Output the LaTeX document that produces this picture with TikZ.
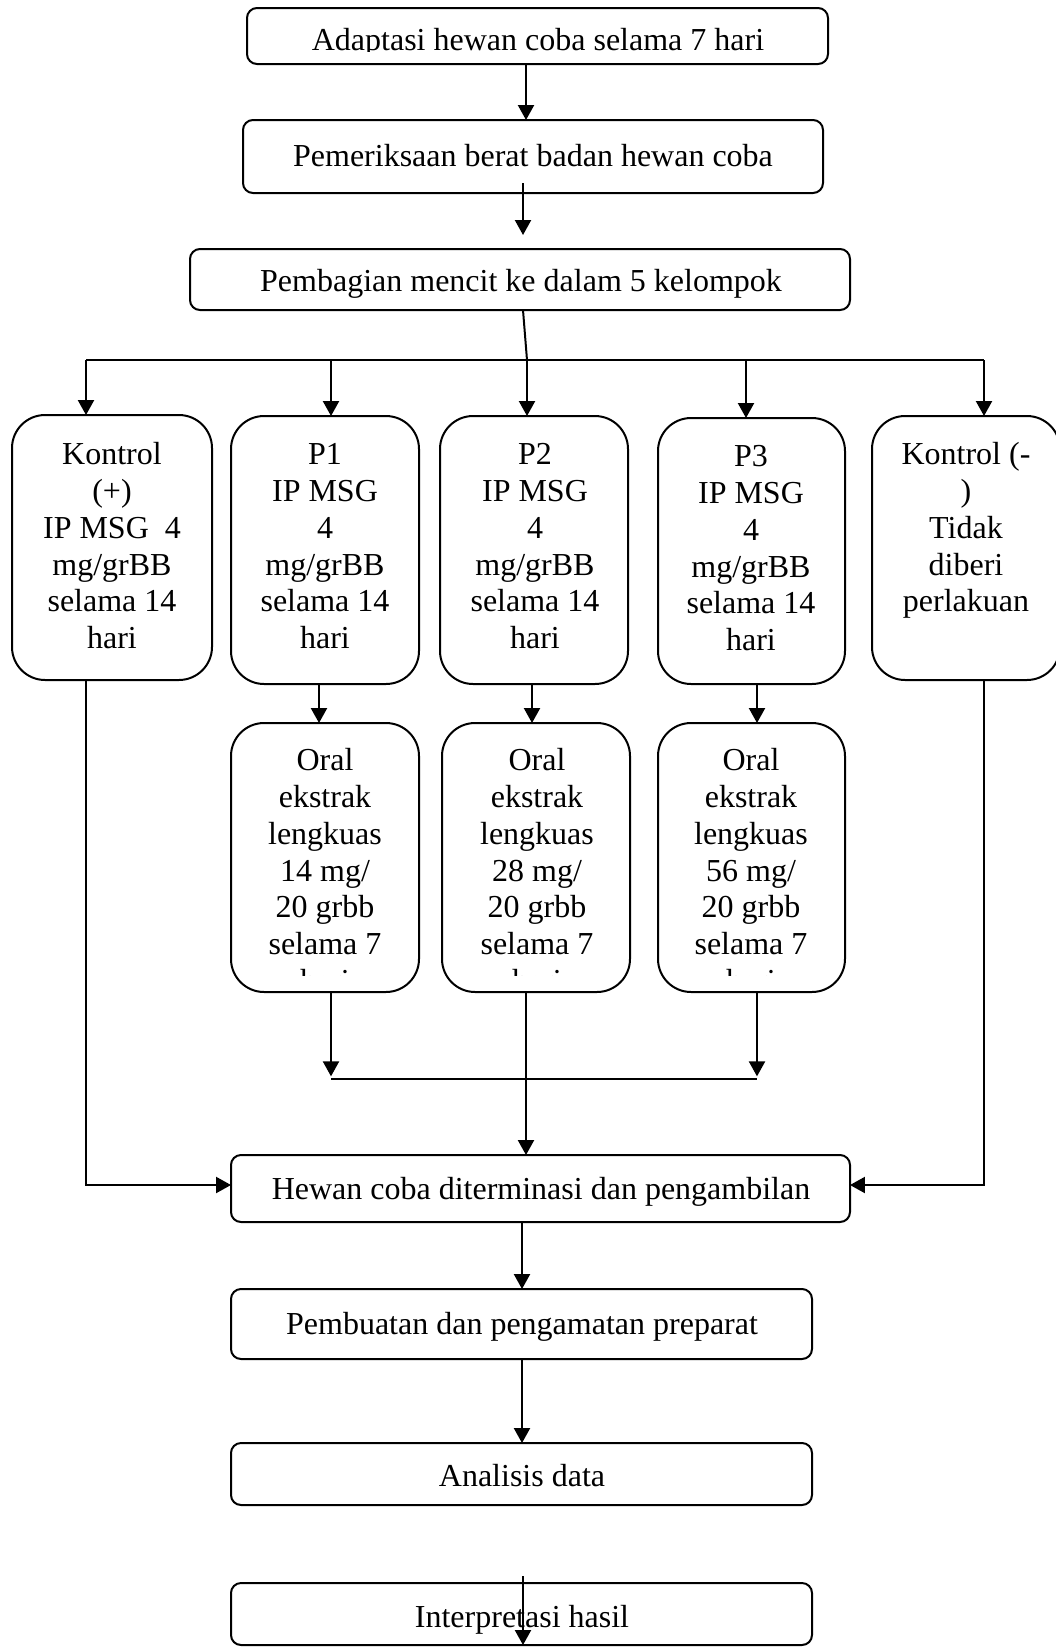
\documentclass[tikz,border=0pt]{standalone}
\usepackage{fontspec}
\setmainfont{Liberation Serif}
\usetikzlibrary{arrows.meta}
\newcommand\mybox[6]{\node[#1, minimum width={(#5-#3)*0.375pt}, minimum height={(#6-#4)*0.375pt}] (#2) at ({(#3+#5)/2},{(#4+#6)/2}) {};}
\begin{document}
\begin{tikzpicture}[x=0.375pt,y=-0.375pt,
  line width=0.75pt,
  box/.style={draw, line width=0.75pt, inner sep=0pt, outer sep=0pt},
  wide/.style={box, rounded corners=3.75pt},
  tall/.style={box, rounded corners=12.4pt},
  txt/.style={inner sep=0pt, outer sep=0pt, font=\fontsize{12}{13.8}\selectfont, align=center},
  arr/.style={-{Triangle[width=6pt,length=5.6pt]}}]
\useasboundingbox (0,0) rectangle (1056,1647);

% boxes
\mybox{wide}{b1}{247}{8}{828}{64}
\mybox{wide}{b2}{243}{120}{823}{193}
\mybox{wide}{b3}{190}{249}{850}{310}
\mybox{tall}{kp}{12}{415}{212}{680}
\mybox{tall}{p1}{231}{416}{419}{684}
\mybox{tall}{p2}{440}{416}{628}{684}
\mybox{tall}{p3}{658}{418}{845}{684}
\mybox{tall}{km}{872}{416}{1060}{680}
\mybox{tall}{o1}{231}{723}{419}{992}
\mybox{tall}{o2}{442}{723}{630}{992}
\mybox{tall}{o3}{658}{723}{845}{992}
\mybox{wide}{hw}{231}{1155}{850}{1222}
\mybox{wide}{pb}{231}{1289}{812}{1359}
\mybox{wide}{an}{231}{1443}{812}{1505}
\mybox{wide}{ih}{231}{1583}{812}{1645}

% texts
\begin{scope}
\clip (247,8) rectangle (828,51);
\node[txt, anchor=base] (t1) at (538,50) {Adaptasi hewan coba selama 7 hari};
\end{scope}
\node[txt, anchor=base] (t2) at (533,166) {Pemeriksaan berat badan hewan coba};
\node[txt, anchor=base] (t3) at (521,291) {Pembagian mencit ke dalam 5 kelompok};
\node[txt, anchor=north] (tkp) at (112,439) {\strut Kontrol\\(+)\\IP MSG\ \ 4\\mg/grBB\\selama 14\\hari};
\node[txt, anchor=north] (tp1) at (325,439) {\strut P1\\IP MSG\\4\\mg/grBB\\selama 14\\hari};
\node[txt, anchor=north] (tp2) at (535,439) {\strut P2\\IP MSG\\4\\mg/grBB\\selama 14\\hari};
\node[txt, anchor=north] (tp3) at (751,441) {\strut P3\\IP MSG\\4\\mg/grBB\\selama 14\\hari};
\node[txt, anchor=north] (tkm) at (966,439) {\strut Kontrol (-\\)\\Tidak\\diberi\\perlakuan};
\begin{scope}
\clip (200,723) rectangle (860,975);
\node[txt, anchor=north] (to1) at (325,745) {\strut Oral\\ekstrak\\lengkuas\\14 mg/\\20 grbb\\selama 7\\hari};
\node[txt, anchor=north] (to2) at (537,745) {\strut Oral\\ekstrak\\lengkuas\\28 mg/\\20 grbb\\selama 7\\hari};
\node[txt, anchor=north] (to3) at (751,745) {\strut Oral\\ekstrak\\lengkuas\\56 mg/\\20 grbb\\selama 7\\hari};
\end{scope}
\node[txt, anchor=base] (thw) at (541,1199) {Hewan coba diterminasi dan pengambilan};
\node[txt, anchor=base] (tpb) at (522,1334) {Pembuatan dan pengamatan preparat};
\node[txt, anchor=base] (tan) at (522,1486) {Analisis data};
\node[txt, anchor=base] (tih) at (522,1627) {Interpretasi hasil};

% connectors
\coordinate (a2s) at (523,183);
\coordinate (a2e) at (523,235);
\coordinate (split) at (527,360);
\coordinate (sl) at (86,360);
\coordinate (sr) at (984,360);
\coordinate (jl) at (331,1079);
\coordinate (jr) at (757,1079);
\coordinate (ls) at (523,1576);

\draw[arr] (526,0 |- b1.south) -- (526,0 |- b2.north);
\draw[arr] (a2s) -- (a2e);
\draw (523,0 |- b3.south) -- (split);
\draw (sl) -- (sr);
\draw[arr] (sl) -- (86,0 |- kp.north);
\draw[arr] (331,360) -- (331,0 |- p1.north);
\draw[arr] (split) -- (527,0 |- p2.north);
\draw[arr] (746,360) -- (746,0 |- p3.north);
\draw[arr] (sr) -- (984,0 |- km.north);

\draw[arr] (319,0 |- p1.south) -- (319,0 |- o1.north);
\draw[arr] (532,0 |- p2.south) -- (532,0 |- o2.north);
\draw[arr] (757,0 |- p3.south) -- (757,0 |- o3.north);

\draw[arr] (331,0 |- o1.south) -- ([yshift=1pt]jl);
\draw[arr] (757,0 |- o3.south) -- ([yshift=1pt]jr);
\draw (jl) -- (jr);
\draw[arr] (526,0 |- o2.south) -- (526,0 |- hw.north);

\draw[arr] (86,0 |- kp.south) |- (hw.west |- 0,1185);
\draw[arr] (984,0 |- km.south) |- (hw.east |- 0,1185);

\draw[arr] (522,0 |- hw.south) -- (522,0 |- pb.north);
\draw[arr] (522,0 |- pb.south) -- (522,0 |- an.north);
\draw[arr] (ls) -- (523,0 |- ih.south);
\end{tikzpicture}
\end{document}
